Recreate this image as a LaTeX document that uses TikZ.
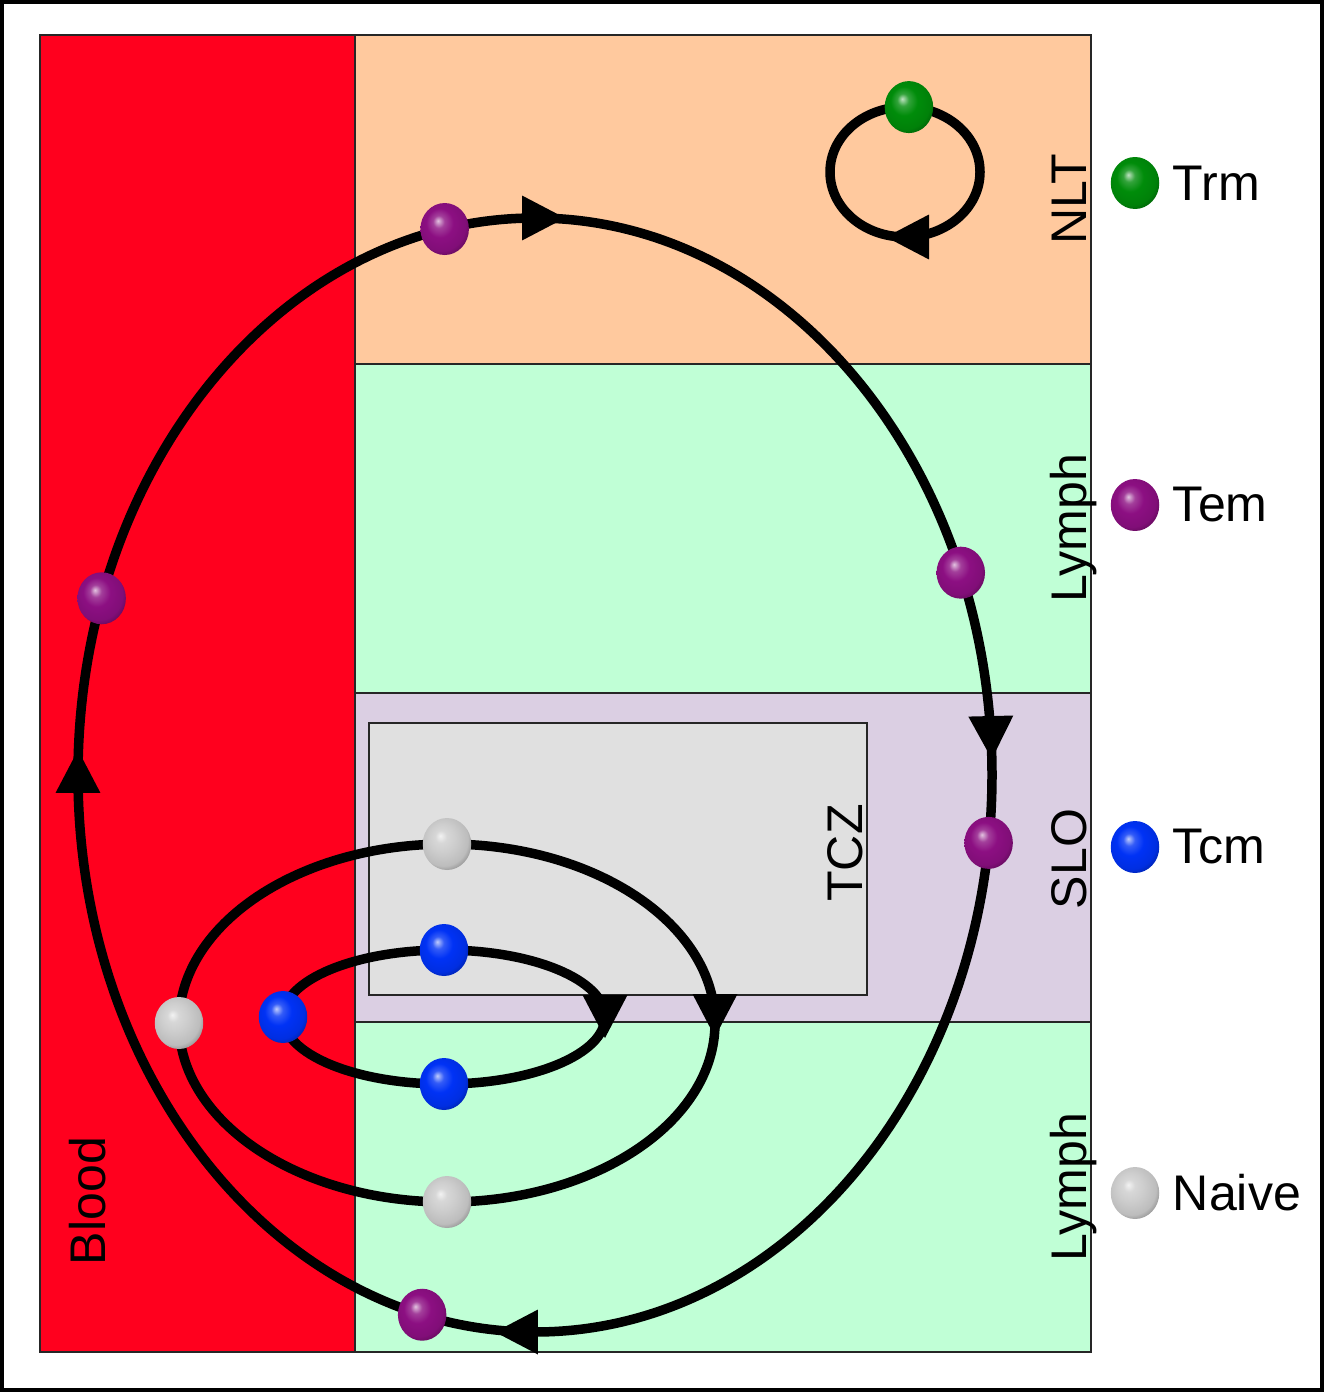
\documentclass[tikz,border=0pt]{standalone}
\usepackage{fontspec}
\setmainfont{Liberation Sans}
\usetikzlibrary{positioning,calc,shapes.geometric,arrows.meta,decorations.markings}

\definecolor{bloodred}{RGB}{255,0,30}
\definecolor{nltpeach}{RGB}{255,201,158}
\definecolor{lymphgreen}{RGB}{192,255,214}
\definecolor{slolilac}{RGB}{219,207,227}
\definecolor{tczgray}{RGB}{224,224,224}
\definecolor{trmc}{RGB}{0,140,10}
\definecolor{temc}{RGB}{140,15,130}
\definecolor{tcmc}{RGB}{0,50,245}
\definecolor{naivec}{RGB}{205,205,205}

\makeatletter
\pgfdeclareradialshading[tikz@ball]{cellball}{\pgfqpoint{-7bp}{8bp}}{%
  color(0bp)=(tikz@ball!25!white);
  color(6bp)=(tikz@ball!80!white);
  color(14bp)=(tikz@ball);
  color(25bp)=(tikz@ball!92!black);
  color(32bp)=(tikz@ball!65!black);
  color(50bp)=(tikz@ball!65!black)}
\makeatother

\begin{document}
\begin{tikzpicture}[x=0.02cm, y=-0.02cm,
  zone/.style={draw=black!85, line width=0.8pt},
  zonelabel/.style={rotate=90, anchor=base, inner sep=0pt, font=\fontsize{28.5}{34}\selectfont},
  route/.style={line width=0.19cm, >={Triangle[length=0.86cm, width=0.9cm, line width=0pt]}},
  cell/.style={ellipse, minimum width=0.97cm, minimum height=1.04cm, inner sep=0pt, ball color=#1, shading=cellball},
  celltext/.style={anchor=west, inner sep=0pt, font=\fontsize{28.5}{34}\selectfont}]

\useasboundingbox (0,0) rectangle (1324,1392);
\draw[line width=0.08cm] (2,2) rectangle (1322,1390);

% draw compartments
\draw[zone, fill=bloodred] (40,35) rectangle (355,1352);
\draw[zone, fill=nltpeach] (355,35) rectangle (1091,364);
\draw[zone, fill=lymphgreen] (355,364) rectangle (1091,693);
\draw[zone, fill=slolilac] (355,693) rectangle (1091,1022);
\draw[zone, fill=lymphgreen] (355,1022) rectangle (1091,1352);
\draw[zone, fill=tczgray] (369,723) rectangle (867,995);

\node[zonelabel] (nlt) at (1086,199) {NLT};
\node[zonelabel] (lymphtop) at (1086,528) {Lymph};
\node[zonelabel] (slo) at (1086,859) {SLO};
\node[zonelabel] (lymphlow) at (1086,1187) {Lymph};
\node[zonelabel] (tcz) at (862,853) {TCZ};
\node[zonelabel] (blood) at (105,1201) {Blood};

% recirculation loops
\coordinate (temloop) at (535,775);
\coordinate (trmloop) at (905,172);
\coordinate (naiveloop) at (447,1023);
\coordinate (tcmloop) at (444,1017);

\draw[route, postaction={decorate}, decoration={markings,
    mark=at position 0.25 with {\arrow[xshift=0.8cm]{>}},
    mark=at position 0.5 with {\arrow[xshift=0.5cm]{>}},
    mark=at position 0.75 with {\arrow[xshift=0.6cm]{>}},
    mark=at position 0.995 with {\arrow{>}}}]
  (temloop) ellipse [x radius=457, y radius=557];
\draw[route, postaction={decorate}, decoration={markings,
    mark=at position 0.25 with {\arrow[xshift=0.38cm]{>}}}]
  (trmloop) ellipse [x radius=75, y radius=65];
\draw[route, postaction={decorate}, decoration={markings,
    mark=at position 0.5 with {\arrow[xshift=0.28cm]{>}}}]
  (naiveloop) ellipse [x radius=268, y radius=179, rotate=180];
\draw[route, postaction={decorate}, decoration={markings,
    mark=at position 0.5 with {\arrow[xshift=0.42cm]{>}}}]
  (tcmloop) ellipse [x radius=161, y radius=67, rotate=180];

% cells on the loops
\node[cell=temc] (tem1) at ($(temloop)+(258.6:457 and 557)$) {};
\node[cell=temc] (tem2) at ($(temloop)+(198.5:457 and 557)$) {};
\node[cell=temc] (tem3) at ($(temloop)+(338.7:457 and 557)$) {};
\node[cell=temc] (tem4) at ($(temloop)+(7:457 and 557)$) {};
\node[cell=temc] (tem5) at ($(temloop)+(104.3:457 and 557)$) {};
\node[cell=trmc] (trm1) at ($(trmloop)+(273:75 and 65)$) {};
\node[cell=naivec] (naive1) at ($(naiveloop)+(270:268 and 179)$) {};
\node[cell=naivec] (naive2) at ($(naiveloop)+(180:268 and 179)$) {};
\node[cell=naivec] (naive3) at ($(naiveloop)+(90:268 and 179)$) {};
\node[cell=tcmc] (tcm1) at ($(tcmloop)+(270:161 and 67)$) {};
\node[cell=tcmc] (tcm2) at ($(tcmloop)+(180:161 and 67)$) {};
\node[cell=tcmc] (tcm3) at ($(tcmloop)+(90:161 and 67)$) {};

% legend
\node[cell=trmc] (trmkey) at (1135,183) {};
\node[celltext, right=0.26cm of trmkey] (trmtext) {Trm};
\node[cell=temc] (temkey) at (1135,505) {};
\node[celltext, right=0.26cm of temkey] (temtext) {Tem};
\node[cell=tcmc] (tcmkey) at (1135,847) {};
\node[celltext, right=0.26cm of tcmkey] (tcmtext) {Tcm};
\node[cell=naivec] (naivekey) at (1135,1193) {};
\node[celltext, right=0.26cm of naivekey] (naivetext) {Naive};

\end{tikzpicture}
\end{document}
